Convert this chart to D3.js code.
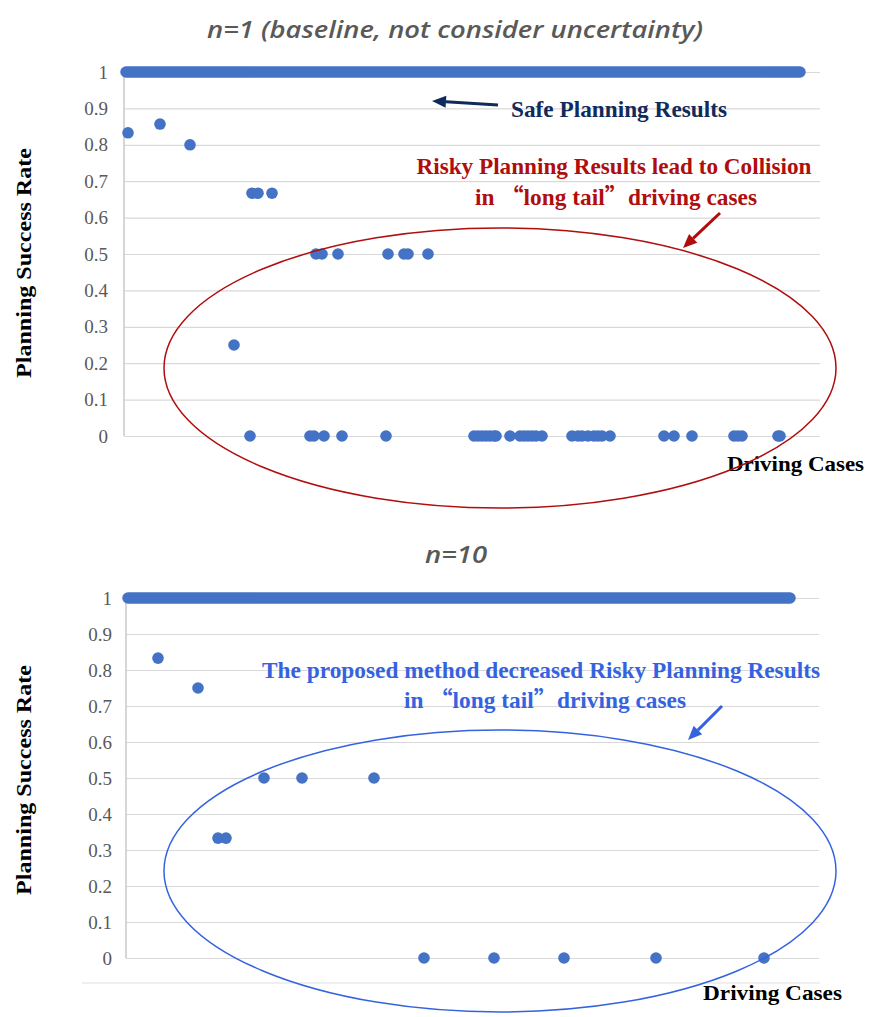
<!DOCTYPE html>
<html>
<head>
<meta charset="utf-8">
<script src="https://cdn.jsdelivr.net/npm/d3@7"></script>
<style>
  body { margin: 0; background: #fff; }
  svg { display: block; }
</style>
</head>
<body>
<div id="chart"></div>
<script>
// values (x = driving case index, y = success rate)
const yTickValues = [0, 0.1, 0.2, 0.3, 0.4, 0.5, 0.6, 0.7, 0.8, 0.9, 1];
const yTickLabels = ["0", "0.1", "0.2", "0.3", "0.4", "0.5", "0.6", "0.7", "0.8", "0.9", "1"];

// n=1 baseline
const n1SafeSpan = [3, 340];   // every other case sits at rate 1
const n1Case = [4, 20, 35, 66, 69, 76, 98, 101, 109, 134, 142, 144, 154, 57,
  65, 95, 97, 102, 111, 133, 177, 179, 181, 183, 185, 187, 188, 195, 200, 202, 204, 206, 208, 211,
  226, 229, 231, 234, 237, 239, 241, 245, 272, 277, 286, 307, 309, 311, 329, 330];
const n1Rate = [0.833, 0.857, 0.8, 0.667, 0.667, 0.667, 0.5, 0.5, 0.5, 0.5, 0.5, 0.5, 0.5, 0.25,
  0, 0, 0, 0, 0, 0, 0, 0, 0, 0, 0, 0, 0, 0, 0, 0, 0, 0, 0, 0,
  0, 0, 0, 0, 0, 0, 0, 0, 0, 0, 0, 0, 0, 0, 0, 0];

// n=10 proposed
const n10SafeSpan = [3, 334];
const n10Case = [18, 38, 48, 52, 71, 90, 126, 151, 186, 221, 267, 321];
const n10Rate = [0.833, 0.75, 0.333, 0.333, 0.5, 0.5, 0.5, 0, 0, 0, 0, 0];

const W = 878, H = 1017;
const dotColor = "#4472c4";
const serif = "'Liberation Serif', 'Times New Roman', serif";
const cjk = "'Noto Sans CJK SC', sans-serif";

const svg = d3.select("#chart").append("svg")
  .attr("width", W).attr("height", H);

function drawPanel(cfg) {
  const x = d3.scaleLinear().domain([0, 350]).range([cfg.x0, cfg.x0 + 700]);
  const y = d3.scaleLinear().domain([0, 1]).range([cfg.yBottom, cfg.yTop]);
  const g = svg.append("g");

  const axis = d3.axisLeft(y)
    .tickValues(yTickValues)
    .tickFormat((d, i) => yTickLabels[i])
    .tickSize(-(cfg.gridEnd - cfg.axisX))
    .tickSizeOuter(0)
    .tickPadding(cfg.pad);

  const ax = g.append("g")
    .attr("transform", `translate(${cfg.axisX},0)`)
    .call(axis);
  ax.select(".domain").remove();
  ax.selectAll(".tick line").attr("stroke", "#d9d9d9").attr("stroke-width", 1.2);
  ax.selectAll(".tick text")
    .attr("fill", "#595959")
    .style("font-family", serif)
    .style("font-size", "19px");

  // vertical axis line
  g.append("line")
    .attr("x1", cfg.axisX).attr("x2", cfg.axisX)
    .attr("y1", y(1)).attr("y2", y(0))
    .attr("stroke", "#c8c8c8").attr("stroke-width", 1.5);

  // cases at 1 are packed so tight they read as one thick bar
  g.append("path")
    .datum(cfg.safe)
    .attr("d", d3.line().x(d => x(d)).y(() => y(1)))
    .attr("stroke", dotColor)
    .attr("stroke-width", 11.5)
    .attr("stroke-linecap", "round")
    .attr("fill", "none");

  g.selectAll("circle.pt")
    .data(cfg.cases.map((c, i) => ({ c, r: cfg.rates[i] })))
    .join("circle")
    .attr("class", "pt")
    .attr("cx", d => x(d.c))
    .attr("cy", d => y(d.r))
    .attr("r", 5.8)
    .attr("fill", dotColor);

  // title
  svg.append("text")
    .attr("x", cfg.titleX).attr("y", cfg.titleY)
    .attr("text-anchor", "middle")
    .attr("fill", "#595959")
    .style("font-family", "'Open Sans', sans-serif")
    .style("font-style", "italic")
    .style("font-weight", 600)
    .style("font-size", "24px")
    .attr("textLength", cfg.titleLen)
    .attr("lengthAdjust", "spacingAndGlyphs")
    .text(cfg.title);

  // axis titles
  svg.append("text")
    .attr("transform", `translate(${cfg.yLabelX},${cfg.yLabelY}) rotate(-90)`)
    .attr("text-anchor", "middle")
    .attr("fill", "#000")
    .style("font-family", serif)
    .style("font-weight", "bold")
    .style("font-size", "22px")
    .attr("textLength", 230)
    .attr("lengthAdjust", "spacingAndGlyphs")
    .text("Planning Success Rate");

  svg.append("text")
    .attr("x", cfg.xLabelX).attr("y", cfg.xLabelY)
    .attr("fill", "#000")
    .style("font-family", serif)
    .style("font-weight", "bold")
    .style("font-size", "22px")
    .attr("textLength", cfg.xLabelLen)
    .attr("lengthAdjust", "spacingAndGlyphs")
    .text("Driving Cases");
}

drawPanel({
  x0: 120, axisX: 124, gridEnd: 820, yTop: 72, yBottom: 436, pad: 16,
  safe: n1SafeSpan, cases: n1Case, rates: n1Rate,
  title: "n=1 (baseline, not consider uncertainty)", titleX: 455, titleY: 38, titleLen: 496,
  yLabelX: 31, yLabelY: 263, xLabelX: 727, xLabelY: 471, xLabelLen: 137
});

drawPanel({
  x0: 122, axisX: 126, gridEnd: 819, yTop: 598, yBottom: 958, pad: 14,
  safe: n10SafeSpan, cases: n10Case, rates: n10Rate,
  title: "n=10", titleX: 456, titleY: 563, titleLen: 62,
  yLabelX: 31, yLabelY: 780, xLabelX: 703, xLabelY: 1000, xLabelLen: 139
});

// faint frame line under the lower plot
svg.append("line")
  .attr("x1", 82).attr("x2", 820).attr("y1", 983).attr("y2", 983)
  .attr("stroke", "#e0e0e0").attr("stroke-width", 1);

function arrow(x1, y1, x2, y2, color, w, headLen, headW) {
  const ang = Math.atan2(y2 - y1, x2 - x1);
  const bx = x2 - headLen * Math.cos(ang), by = y2 - headLen * Math.sin(ang);
  svg.append("line")
    .attr("x1", x1).attr("y1", y1).attr("x2", bx).attr("y2", by)
    .attr("stroke", color).attr("stroke-width", w);
  const px = -Math.sin(ang) * headW, py = Math.cos(ang) * headW;
  svg.append("path")
    .attr("d", `M${x2},${y2}L${bx + px},${by + py}L${bx - px},${by - py}Z`)
    .attr("fill", color);
}

// one annotation line; parts = [text, isCjk] pairs
function noteLine(x, y, len, parts, color) {
  const t = svg.append("text")
    .attr("x", x).attr("y", y)
    .attr("text-anchor", "middle")
    .attr("fill", color)
    .style("font-family", serif)
    .style("font-weight", "bold")
    .style("font-size", "23px")
    .attr("textLength", len)
    .attr("lengthAdjust", "spacingAndGlyphs");
  parts.forEach(p => {
    t.append("tspan")
      .style("font-family", p[1] ? cjk : serif)
      .text(p[0]);
  });
}

const tailLine = [["in ", false], ["\u201C", true], ["long tail", false], ["\u201D", true], ["driving cases", false]];

// top annotations
const navy = "#102a5c", red = "#b00d0d", blue = "#3563e0";
arrow(498, 105, 432, 101, navy, 3, 14, 6);
noteLine(619, 117, 216, [["Safe Planning Results", false]], navy);
noteLine(614, 174, 395, [["Risky Planning Results lead to Collision", false]], red);
noteLine(616, 205, 282, tailLine, red);
arrow(720, 213, 683, 248, red, 3, 14, 6);
svg.append("ellipse")
  .attr("cx", 500).attr("cy", 368).attr("rx", 336).attr("ry", 140)
  .attr("fill", "none").attr("stroke", red).attr("stroke-width", 1.5);

// bottom annotations
noteLine(541, 678, 558, [["The proposed method decreased Risky Planning Results", false]], blue);
noteLine(545, 708, 282, tailLine, blue);
arrow(722, 706, 688, 740, blue, 3, 14, 6);
svg.append("ellipse")
  .attr("cx", 500).attr("cy", 871).attr("rx", 336).attr("ry", 141)
  .attr("fill", "none").attr("stroke", blue).attr("stroke-width", 1.5);
</script>
</body>
</html>
